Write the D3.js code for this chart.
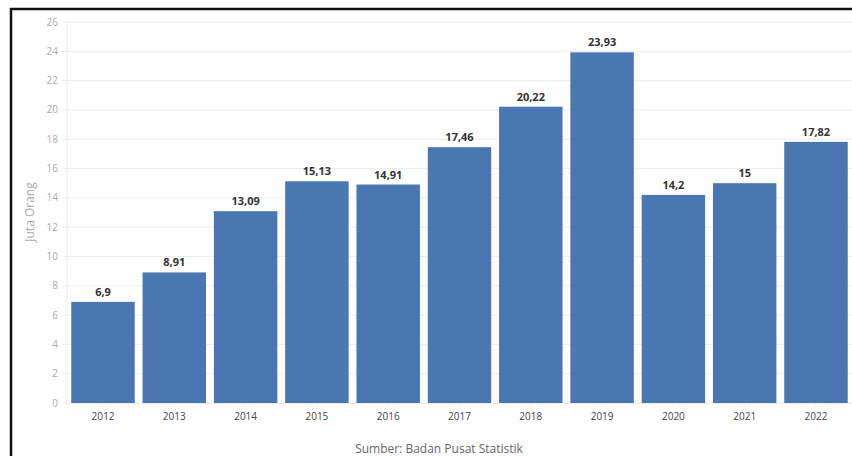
<!DOCTYPE html>
<html>
<head>
<meta charset="utf-8">
<script src="https://cdn.jsdelivr.net/npm/d3@7"></script>
<style>
  body { margin: 0; background: #fff; }
  svg { display: block; font-family: "Open Sans", sans-serif; }
</style>
</head>
<body>
<div class="vis-bar"></div>
<script>
const years = ['2012', '2013', '2014', '2015', '2016', '2017', '2018', '2019', '2020', '2021', '2022'];
const values = [6.9, 8.91, 13.09, 15.13, 14.91, 17.46, 20.22, 23.93, 14.2, 15, 17.82];
const labels = ['6,9', '8,91', '13,09', '15,13', '14,91', '17,46', '20,22', '23,93', '14,2', '15', '17,82'];
const yTicks = [0, 2, 4, 6, 8, 10, 12, 14, 16, 18, 20, 22, 24, 26];

const W = 852, H = 456;
const margin = { top: 22, right: 0, bottom: 53, left: 67 };
const width = W - margin.left - margin.right;
const height = H - margin.top - margin.bottom;

const svg = d3.select('.vis-bar')
    .append('svg')
    .attr('width', W)
    .attr('height', H);

// frame
svg.append('path')
    .attr('d', 'M11,' + H + 'V9H' + W)
    .attr('fill', 'none')
    .attr('stroke', '#111')
    .attr('stroke-width', 2.5);

const g = svg.append('g')
    .attr('transform', 'translate(' + margin.left + ',' + margin.top + ')');

const x = d3.scaleBand()
    .domain(years)
    .range([0, width])
    .paddingInner(0.11)
    .paddingOuter(0.06);

const y = d3.scaleLinear()
    .domain([0, 26])
    .range([height, 0]);

// grid
g.selectAll('.grid')
    .data(yTicks)
    .enter().append('line')
    .attr('x1', -5)
    .attr('x2', width)
    .attr('y1', d => y(d))
    .attr('y2', d => y(d))
    .attr('stroke', '#ececec')
    .attr('stroke-width', 1);

g.append('line')
    .attr('x1', 0).attr('x2', 0)
    .attr('y1', 0).attr('y2', height)
    .attr('stroke', '#ececec');

// y tick labels
g.selectAll('.ytick')
    .data(yTicks)
    .enter().append('text')
    .attr('x', -9)
    .attr('y', d => y(d))
    .attr('dy', '0.35em')
    .attr('text-anchor', 'end')
    .style('font-size', '10px')
    .attr('fill', '#aaa')
    .text(d => d);

// x ticks
const xAxis = g.append('g')
    .attr('transform', 'translate(0,' + height + ')')
    .call(d3.axisBottom(x).tickSize(4).tickPadding(6));
xAxis.select('.domain').attr('stroke', '#ececec');
xAxis.selectAll('line').attr('stroke', '#ececec');
xAxis.selectAll('text')
    .style('font-size', '10px')
    .style('font-family', '"Open Sans", sans-serif')
    .attr('fill', '#444');

// bars
g.selectAll('.bar')
    .data(values)
    .enter().append('rect')
    .attr('x', (d, i) => x(years[i]))
    .attr('y', d => y(d))
    .attr('width', x.bandwidth())
    .attr('height', d => height - y(d))
    .attr('fill', '#4a76b2');

// value labels
g.selectAll('.val')
    .data(values)
    .enter().append('text')
    .attr('x', (d, i) => x(years[i]) + x.bandwidth() / 2)
    .attr('y', d => y(d) - 6)
    .attr('text-anchor', 'middle')
    .style('font-size', '11px')
    .style('font-weight', 'bold')
    .attr('fill', '#333')
    .text((d, i) => labels[i]);

// axis title
svg.append('text')
    .attr('transform', 'translate(34,' + (margin.top + 190) + ') rotate(-90)')
    .attr('text-anchor', 'middle')
    .style('font-size', '12px')
    .attr('fill', '#aaa')
    .text('Juta Orang');

// source
svg.append('text')
    .attr('x', 439)
    .attr('y', 453)
    .attr('text-anchor', 'middle')
    .style('font-size', '12px')
    .attr('fill', '#666')
    .text('Sumber: Badan Pusat Statistik');
</script>
</body>
</html>
